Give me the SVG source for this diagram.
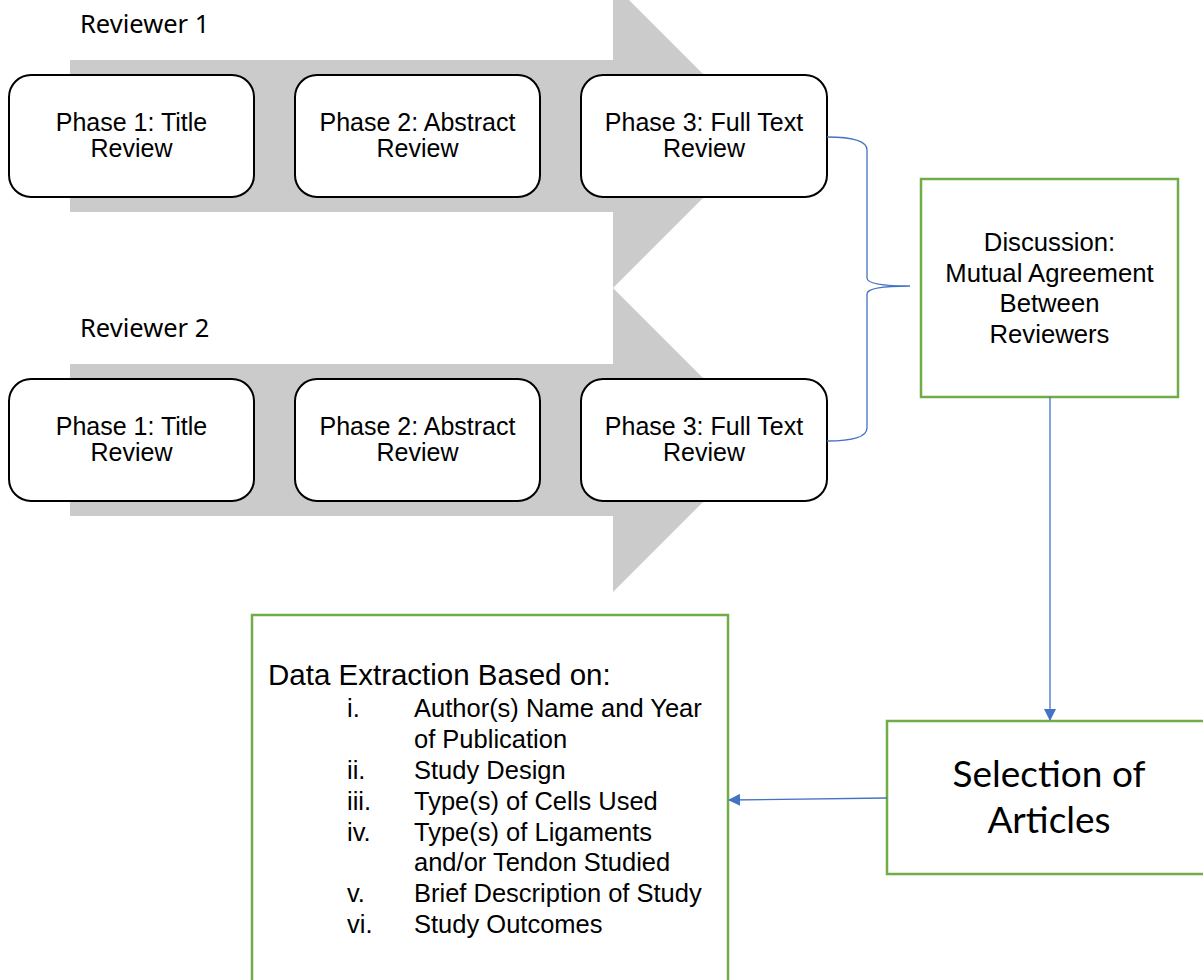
<svg xmlns="http://www.w3.org/2000/svg" width="1203" height="980" viewBox="0 0 1203 980">
<style>
.bg{fill:#ffffff}
.band{fill:#cbcbcb}
.phase{fill:#ffffff;stroke:#000000;stroke-width:2}
.green{fill:#ffffff;stroke:#70ad47;stroke-width:2.5}
.t{font-family:"Liberation Sans",Arial,sans-serif;fill:#000000}
.pt{font-size:25px;text-anchor:middle}
.dt{font-size:25.7px;text-anchor:middle}
.rv{font-family:"Noto Sans","Open Sans",sans-serif;font-size:25.5px;fill:#000000}
.sel{font-family:Lato,"Open Sans",sans-serif;font-size:37px;fill:#000000;text-anchor:middle}
.conn{fill:none;stroke:#4472c4;stroke-width:1.3}
.li{font-size:25.5px}
</style>
<defs>
<marker id="ah" markerWidth="12" markerHeight="12" refX="11" refY="6" orient="auto" markerUnits="userSpaceOnUse">
<path d="M0,0 L12,6 L0,12 Z" fill="#4472c4"/>
</marker>
</defs>
<rect class="bg" x="0" y="0" width="1203" height="980"/>

<g id="reviewer1">
<path class="band" d="M70,60 L613,60 L613,-16 L765,136 L613,288 L613,212 L70,212 Z"/>
<text class="rv" x="80" y="33">Reviewer 1</text>
</g>
<g id="reviewer2">
<path class="band" d="M70,364 L613,364 L613,288 L765,440 L613,592 L613,516 L70,516 Z"/>
<text class="rv" x="80" y="337">Reviewer 2</text>
</g>

<g id="r1p1">
<rect class="phase" x="9" y="75" width="245" height="122" rx="22"/>
<text class="t pt" x="131.5" y="131">Phase 1: Title</text>
<text class="t pt" x="131.5" y="157">Review</text>
</g>
<g id="r1p2">
<rect class="phase" x="295" y="75" width="245" height="122" rx="22"/>
<text class="t pt" x="417.5" y="131">Phase 2: Abstract</text>
<text class="t pt" x="417.5" y="157">Review</text>
</g>
<g id="r1p3">
<rect class="phase" x="581" y="75" width="246" height="122" rx="22"/>
<text class="t pt" x="704" y="131">Phase 3: Full Text</text>
<text class="t pt" x="704" y="157">Review</text>
</g>
<g id="r2p1">
<rect class="phase" x="9" y="379" width="245" height="122" rx="22"/>
<text class="t pt" x="131.5" y="435">Phase 1: Title</text>
<text class="t pt" x="131.5" y="461">Review</text>
</g>
<g id="r2p2">
<rect class="phase" x="295" y="379" width="245" height="122" rx="22"/>
<text class="t pt" x="417.5" y="435">Phase 2: Abstract</text>
<text class="t pt" x="417.5" y="461">Review</text>
</g>
<g id="r2p3">
<rect class="phase" x="581" y="379" width="246" height="122" rx="22"/>
<text class="t pt" x="704" y="435">Phase 3: Full Text</text>
<text class="t pt" x="704" y="461">Review</text>
</g>

<g id="discussion">
<rect class="green" x="921" y="179" width="257" height="218"/>
<text class="t dt" x="1049.5" y="251">Discussion:</text>
<text class="t dt" x="1049.5" y="282">Mutual Agreement</text>
<text class="t dt" x="1049.5" y="312">Between</text>
<text class="t dt" x="1049.5" y="343">Reviewers</text>
</g>

<g id="selection">
<rect class="green" x="887" y="721" width="324" height="153"/>
<text class="sel" x="1049" y="787">Selection of</text>
<text class="sel" x="1049" y="833">Articles</text>
</g>

<g id="extraction">
<rect class="green" x="252" y="615" width="476" height="380"/>
<text class="t" x="268" y="685" font-size="29.5">Data Extraction Based on:</text>
<g class="t li">
<text x="347" y="717">i.</text><text x="414" y="717">Author(s) Name and Year</text>
<text x="414" y="748">of Publication</text>
<text x="347" y="779">ii.</text><text x="414" y="779">Study Design</text>
<text x="347" y="810">iii.</text><text x="414" y="810">Type(s) of Cells Used</text>
<text x="347" y="841">iv.</text><text x="414" y="841">Type(s) of Ligaments</text>
<text x="414" y="871">and/or Tendon Studied</text>
<text x="347" y="902">v.</text><text x="414" y="902">Brief Description of Study</text>
<text x="347" y="933">vi.</text><text x="414" y="933">Study Outcomes</text>
</g>
</g>

<g id="connectors">
<path class="conn" d="M827,137 Q867,137 867,150 L867,278 Q867,286 910,286 Q867,286 867,294 L867,428 Q867,441 827,441"/>
<path class="conn" d="M1050,397 L1050,720" marker-end="url(#ah)"/>
<path class="conn" d="M887,798 L729,800" marker-end="url(#ah)"/>
</g>
</svg>
